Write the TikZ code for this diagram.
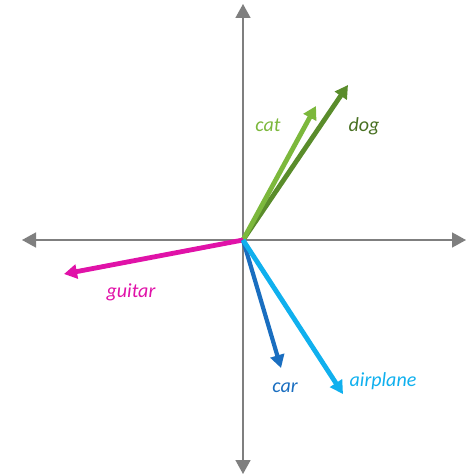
\documentclass[tikz,border=0pt]{standalone}
\usepackage{fontspec}
\setsansfont{Carlito}
\usetikzlibrary{arrows.meta}
\definecolor{axisgray}{HTML}{7F7F7F}
\definecolor{catgreen}{HTML}{7CB83C}
\definecolor{doggreen}{HTML}{5A8C2B}
\definecolor{guitarpink}{HTML}{E012A8}
\definecolor{carblue}{HTML}{1A6EC0}
\definecolor{planeblue}{HTML}{10B0EE}
\tikzset{
  axis/.style={draw=axisgray, line width=1.6pt, -{Triangle[length=14pt,width=15pt]}},
  vec/.style={line width=4.8pt, -{Triangle[length=13pt,width=14pt]}},
  lbl/.style={font=\sffamily\itshape\fontsize{20}{20}\selectfont, inner sep=0pt},
}
\begin{document}
\begin{tikzpicture}[x=1pt,y=-1pt]
\useasboundingbox (0,0) rectangle (470,476);
\coordinate (O) at (243,240);
\coordinate (L) at (22,240);
\coordinate (R) at (466,240);
\coordinate (T) at (243,4);
\coordinate (B) at (243,474);
\draw[axis] (O) -- (L);
\draw[axis] (O) -- (R);
\draw[axis] (O) -- (T);
\draw[axis] (O) -- (B);
\coordinate (cat) at (316,106);
\coordinate (dog) at (348,85);
\coordinate (guitar) at (64,274);
\coordinate (car) at (281,368);
\coordinate (plane) at (343,394);
\draw[vec, draw=doggreen, fill=doggreen] (O) -- (dog);
\draw[vec, draw=catgreen, fill=catgreen] (O) -- (cat);
\draw[vec, draw=guitarpink] (O) -- (guitar);
\draw[vec, draw=carblue, line width=4.2pt] (O) -- (car);
\draw[vec, draw=planeblue] (O) -- (plane);
\node[lbl, text=catgreen] (tcat) at (268,125) {cat};
\node[lbl, text=doggreen!80!black] (tdog) at (364,126) {dog};
\node[lbl, text=guitarpink] (tguitar) at (131,292) {guitar};
\node[lbl, text=carblue] (tcar) at (285,388) {car};
\node[lbl, text=planeblue] (tplane) at (383,381) {airplane};
\end{tikzpicture}
\end{document}
